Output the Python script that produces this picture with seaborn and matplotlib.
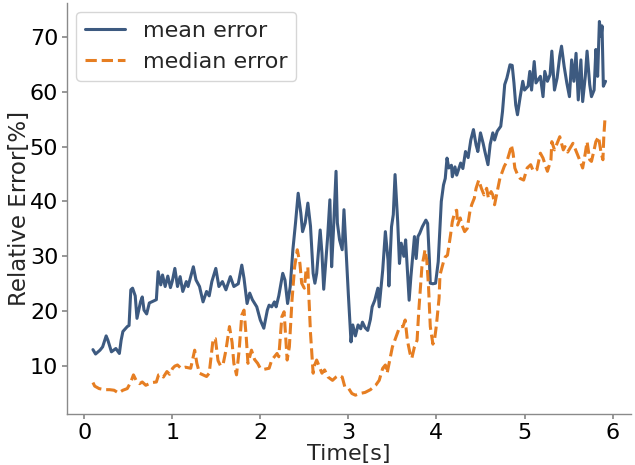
import matplotlib
matplotlib.use("Agg")
import matplotlib.pyplot as plt
import seaborn as sns
import pandas as pd

t_mean = [0.10, 0.13, 0.18, 0.21, 0.25, 0.27, 0.31, 0.36, 0.40, 0.42, 0.44, 0.49, 0.51, 0.53, 0.55, 0.58,
          0.60, 0.64, 0.66, 0.68, 0.71, 0.74, 0.78, 0.82, 0.84, 0.87, 0.89, 0.92, 0.95, 0.98, 1.00, 1.03,
          1.06, 1.09, 1.12, 1.16, 1.18, 1.24, 1.27, 1.31, 1.35, 1.39, 1.42, 1.45, 1.495, 1.53, 1.57, 1.61,
          1.66, 1.70, 1.75, 1.79, 1.815, 1.85, 1.88, 1.91, 1.96, 2.00, 2.04, 2.08, 2.10, 2.13, 2.16, 2.18,
          2.21, 2.255, 2.28, 2.31, 2.34, 2.37, 2.40, 2.43, 2.46, 2.48, 2.51, 2.54, 2.57, 2.60, 2.62, 2.64,
          2.68, 2.70, 2.72, 2.765, 2.79, 2.81, 2.83, 2.86, 2.875, 2.90, 2.93, 2.95, 2.98, 3.00, 3.03, 3.05,
          3.08, 3.11, 3.14, 3.16, 3.19, 3.22, 3.25, 3.27, 3.30, 3.335, 3.35, 3.39, 3.42, 3.45, 3.46, 3.49,
          3.51, 3.53, 3.56, 3.58, 3.60, 3.63, 3.65, 3.69, 3.71, 3.75, 3.77, 3.79, 3.81, 3.84, 3.88, 3.90,
          3.92, 3.93, 3.96, 3.99, 4.02, 4.055, 4.08, 4.10, 4.12, 4.14, 4.17, 4.18, 4.21, 4.23, 4.275, 4.30,
          4.33, 4.36, 4.39, 4.42, 4.45, 4.47, 4.50, 4.53, 4.55, 4.585, 4.61, 4.64, 4.66, 4.69, 4.73, 4.75,
          4.775, 4.80, 4.835, 4.86, 4.88, 4.90, 4.92, 4.95, 4.98, 5.00, 5.04, 5.06, 5.08, 5.11, 5.13, 5.18,
          5.21, 5.23, 5.26, 5.29, 5.31, 5.34, 5.37, 5.40, 5.42, 5.45, 5.48, 5.51, 5.535, 5.56, 5.585, 5.61,
          5.64, 5.66, 5.69, 5.71, 5.74, 5.76, 5.79, 5.81, 5.83, 5.85, 5.87, 5.88, 5.895, 5.92]
mean_error = [13.0, 12.2, 12.9, 13.5, 15.5, 14.7, 12.6, 13.2, 12.3, 14.7, 16.3, 17.2, 17.4, 23.9, 24.2, 22.8,
              18.7, 21.7, 22.6, 20.2, 19.5, 21.5, 21.8, 22.1, 27.2, 24.8, 26.6, 24.5, 26.4, 24.3, 25.4, 27.8,
              24.5, 26.3, 23.6, 25.4, 24.5, 28.1, 25.7, 24.5, 21.7, 23.6, 22.8, 25.4, 27.8, 24.5, 25.4, 23.9,
              26.3, 24.5, 25.0, 28.4, 26.0, 21.4, 23.3, 22.1, 20.8, 18.4, 16.9, 20.2, 21.1, 20.8, 21.7, 20.8,
              22.8, 26.9, 25.7, 21.4, 24.5, 31.2, 36.1, 41.5, 37.9, 34.5, 36.1, 39.7, 35.5, 26.9, 25.1, 26.9,
              34.8, 30.6, 24.0, 33.6, 40.3, 28.1, 34.5, 45.5, 36.1, 33.0, 31.2, 38.5, 29.3, 23.0, 14.4, 17.5,
              15.5, 17.5, 16.8, 18.0, 17.0, 16.5, 18.5, 20.8, 22.0, 24.2, 20.8, 27.5, 34.5, 29.3, 24.6, 35.4,
              37.6, 44.9, 36.3, 28.7, 32.4, 30.0, 33.0, 22.0, 26.3, 33.6, 29.6, 33.6, 34.2, 35.4, 36.6, 36.0,
              29.3, 25.1, 25.0, 25.1, 29.0, 40.0, 43.0, 44.2, 47.9, 46.1, 46.6, 44.5, 46.3, 44.8, 47.0, 46.0,
              49.1, 48.0, 51.2, 53.1, 50.3, 49.1, 52.5, 50.6, 49.1, 46.7, 50.4, 52.5, 51.2, 52.8, 53.7, 56.4,
              61.3, 62.5, 64.9, 64.8, 61.6, 57.6, 55.8, 59.0, 61.9, 60.3, 61.0, 63.7, 60.3, 65.5, 61.6, 62.8,
              59.1, 63.7, 61.9, 63.1, 67.4, 60.3, 62.5, 66.5, 68.3, 64.6, 61.6, 59.1, 65.8, 61.9, 67.0, 58.5,
              65.8, 58.2, 62.8, 67.4, 61.3, 59.1, 60.3, 67.7, 62.8, 72.8, 70.1, 72.0, 61.0, 61.9]

t_median = [0.10, 0.12, 0.17, 0.23, 0.29, 0.34, 0.39, 0.44, 0.49, 0.53, 0.56, 0.59, 0.63, 0.66, 0.70, 0.74,
            0.77, 0.82, 0.845, 0.87, 0.90, 0.94, 0.97, 1.005, 1.03, 1.06, 1.10, 1.15, 1.21, 1.255, 1.28, 1.31,
            1.35, 1.39, 1.42, 1.465, 1.49, 1.52, 1.55, 1.58, 1.61, 1.65, 1.68, 1.70, 1.73, 1.76, 1.79, 1.815,
            1.84, 1.86, 1.90, 1.935, 1.97, 2.00, 2.04, 2.10, 2.13, 2.19, 2.21, 2.245, 2.27, 2.29, 2.305, 2.33,
            2.36, 2.39, 2.42, 2.45, 2.47, 2.50, 2.52, 2.54, 2.55, 2.57, 2.60, 2.61, 2.64, 2.67, 2.70, 2.73,
            2.77, 2.82, 2.86, 2.89, 2.93, 2.96, 3.00, 3.04, 3.08, 3.13, 3.19, 3.25, 3.31, 3.35, 3.39, 3.42,
            3.44, 3.47, 3.50, 3.54, 3.57, 3.59, 3.62, 3.645, 3.67, 3.70, 3.72, 3.75, 3.78, 3.80, 3.835, 3.86,
            3.87, 3.89, 3.91, 3.93, 3.96, 3.98, 4.00, 4.03, 4.04, 4.08, 4.10, 4.125, 4.16, 4.18, 4.21, 4.23,
            4.24, 4.27, 4.29, 4.32, 4.35, 4.38, 4.40, 4.43, 4.45, 4.48, 4.51, 4.54, 4.57, 4.59, 4.62, 4.64,
            4.66, 4.69, 4.72, 4.75, 4.77, 4.80, 4.84, 4.85, 4.87, 4.89, 4.92, 4.95, 4.99, 5.03, 5.07, 5.10,
            5.14, 5.18, 5.21, 5.24, 5.26, 5.30, 5.31, 5.34, 5.37, 5.40, 5.44, 5.46, 5.49, 5.52, 5.55, 5.58,
            5.61, 5.64, 5.66, 5.69, 5.71, 5.74, 5.76, 5.79, 5.81, 5.84, 5.87, 5.89, 5.90, 5.915]
median_error = [7.0, 6.35, 5.9, 5.7, 5.7, 5.6, 5.1, 5.6, 5.9, 7.1, 8.4, 7.4, 6.8, 7.1, 6.5, 6.8,
                7.0, 7.1, 8.4, 8.5, 8.0, 9.0, 8.5, 9.6, 10.0, 10.2, 9.6, 9.8, 9.6, 12.9, 10.5, 8.7,
                8.4, 8.1, 8.7, 15.0, 15.0, 11.0, 10.0, 10.5, 12.9, 17.2, 14.3, 10.5, 8.4, 12.9, 19.3, 20.2,
                15.4, 10.5, 12.9, 11.2, 10.5, 9.6, 9.4, 9.6, 11.1, 12.3, 11.7, 19.0, 19.9, 14.7, 11.1, 13.5,
                22.0, 28.1, 31.2, 28.7, 25.1, 24.2, 27.5, 28.0, 23.3, 16.0, 8.7, 9.9, 11.1, 9.9, 8.7, 9.3,
                8.0, 7.4, 8.0, 8.3, 8.0, 6.2, 6.0, 5.0, 4.7, 5.0, 5.2, 5.7, 6.5, 7.4, 9.6, 10.2,
                8.7, 11.1, 13.5, 15.3, 16.6, 17.2, 17.2, 18.4, 14.7, 12.3, 11.4, 13.5, 14.7, 20.2, 28.1, 30.2,
                31.2, 29.3, 24.5, 17.2, 14.0, 15.0, 17.5, 22.4, 26.6, 29.0, 29.9, 30.2, 33.9, 36.3, 38.2, 38.4,
                35.7, 37.0, 35.7, 34.5, 35.1, 38.2, 39.4, 40.6, 42.4, 43.9, 42.4, 41.2, 42.4, 40.6, 41.8, 41.2,
                39.4, 41.8, 44.2, 45.5, 46.4, 47.3, 49.5, 50.3, 48.8, 46.1, 44.9, 44.2, 43.9, 46.1, 46.7, 45.5,
                45.8, 48.8, 47.9, 46.4, 45.5, 47.6, 50.9, 49.4, 50.6, 51.8, 49.4, 50.0, 49.0, 49.8, 50.6, 49.4,
                48.2, 47.0, 46.1, 48.8, 50.9, 47.6, 47.3, 49.4, 50.9, 51.8, 48.8, 47.6, 51.8, 55.5]

series_labels = ["mean error", "median error"]
colors = ["#3d5a80", "#e67e22"]

sns.set_theme(style="ticks")
plt.rcParams["font.family"] = ["DejaVu Sans"]
plt.rcParams["axes.edgecolor"] = "#8a8a8a"
plt.rcParams["axes.linewidth"] = 1.0
plt.rcParams["xtick.color"] = "#8a8a8a"
plt.rcParams["ytick.color"] = "#8a8a8a"
plt.rcParams["xtick.labelcolor"] = "black"
plt.rcParams["ytick.labelcolor"] = "black"
plt.rcParams["xtick.major.size"] = 3.5
plt.rcParams["ytick.major.size"] = 3.5
plt.rcParams["xtick.major.pad"] = 3.0
plt.rcParams["ytick.major.pad"] = 3.0

df_mean = pd.DataFrame({"t": t_mean, "v": mean_error})
df_median = pd.DataFrame({"t": t_median, "v": median_error})

fig = plt.figure(figsize=(6.35, 4.65), dpi=100)
ax = fig.add_axes([0.106, 0.110, 0.888, 0.884])
sns.lineplot(data=df_mean, x="t", y="v", ax=ax, color=colors[0], lw=2.2,
             label=series_labels[0], sort=False)
sns.lineplot(data=df_median, x="t", y="v", ax=ax, color=colors[1], lw=2.2,
             linestyle="--", label=series_labels[1], sort=False)

ax.set_xlabel("Time[s]", fontsize=16, labelpad=1)
ax.set_ylabel("Relative Error[%]", fontsize=16.5, labelpad=-1)
ax.tick_params(labelsize=16)
ax.set_yticks([10, 20, 30, 40, 50, 60, 70])
ax.set_xticks([0, 1, 2, 3, 4, 5, 6])
sns.despine(ax=ax)
ax.legend(loc="upper left", fontsize=16, frameon=True, handlelength=1.8,
          handletextpad=0.8, borderaxespad=0.4)

fig.savefig("out.png", dpi=100)
